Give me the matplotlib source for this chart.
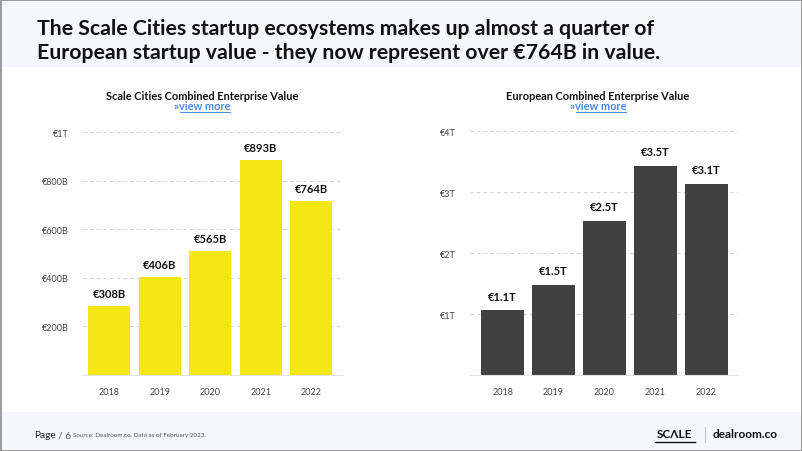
import matplotlib
matplotlib.use("Agg")
import matplotlib.pyplot as plt
from matplotlib.patches import Rectangle

plt.rcParams['font.family'] = ['Lato', 'DejaVu Sans']

years = ["2018", "2019", "2020", "2021", "2022"]
scale_values = [282, 405, 510, 887, 716]          # bar heights in € billions
scale_labels = ["€308B", "€406B", "€565B", "€893B", "€764B"]
scale_ticks = [200, 400, 600, 800, 1000]
scale_tick_labels = ["€200B", "€400B", "€600B", "€800B", "€1T"]

europe_values = [1.06, 1.48, 2.53, 3.43, 3.14]    # bar heights in € trillions
europe_labels = ["€1.1T", "€1.5T", "€2.5T", "€3.5T", "€3.1T"]
europe_ticks = [1, 2, 3, 4]
europe_tick_labels = ["€1T", "€2T", "€3T", "€4T"]

title = ("The Scale Cities startup ecosystems makes up almost a quarter of\n"
         "European startup value - they now represent over €764B in value.")

W, H = 802, 452
fig = plt.figure(figsize=(W / 100, H / 100), dpi=100)
fig.patch.set_facecolor("white")

def px(x, y):
    return x / W, 1 - y / H

# header & footer bands
fig.add_artist(Rectangle((0, 1 - 68 / H), 1, 68 / H, transform=fig.transFigure,
                         facecolor="#f6f7fb", edgecolor="none", zorder=0))
fig.add_artist(Rectangle((0, 0), 1, 39 / H, transform=fig.transFigure,
                         facecolor="#f6f7fb", edgecolor="none", zorder=0))
fig.add_artist(Rectangle((0.5 / W, 0.5 / H), 1 - 1 / W, 1 - 1 / H, transform=fig.transFigure,
                         facecolor="none", edgecolor="#8a8a8a", linewidth=1.2, zorder=10))

fig.text(*px(37, 41), title, fontsize=15.3, fontweight="bold", color="#111111",
         ha="left", va="center", linespacing=1.3)

# footer
fig.text(*px(34, 436), "Page", fontsize=7.3, color="#222222", ha="left", va="center")
fig.text(*px(58, 436), "/ 6", fontsize=7.3, color="#555555", ha="left", va="center")
fig.text(*px(73, 436), "Source: Dealroom.co. Data as of February 2023.", fontsize=4.5,
         color="#555555", ha="left", va="center")
fig.text(*px(675, 435), "SCΛLE", fontsize=8.5, fontweight="bold", color="#111111",
         ha="center", va="center")
fig.add_artist(plt.Line2D([px(655, 0)[0], px(695, 0)[0]], [px(0, 443)[1]] * 2,
                          transform=fig.transFigure, color="#111111", linewidth=1))
fig.add_artist(plt.Line2D([px(705, 0)[0]] * 2, [px(0, 428)[1], px(0, 443)[1]],
                          transform=fig.transFigure, color="#cccccc", linewidth=0.8))
fig.text(*px(745, 435), "dealroom.co", fontsize=8.5, fontweight="bold", color="#111111",
         ha="center", va="center")


def make_chart(left, right, y0pix, ytop_pix, ymax, values, labels, ticks, tick_labels,
               color, xlim, title_text, title_x, label_off):
    bottom = 1 - y0pix / H
    top = 1 - ytop_pix / H
    ax = fig.add_axes([left / W, bottom, (right - left) / W, top - bottom])
    ax.set_facecolor("none")
    x = list(range(len(years)))
    ax.bar(x, values, width=0.84, color=color, zorder=2)
    ax.set_xlim(*xlim)
    ax.set_ylim(0, ymax)
    ax.set_yticks(ticks)
    ax.set_yticklabels(tick_labels)
    ax.set_xticks(x)
    ax.set_xticklabels(years)
    ax.tick_params(axis="both", length=0, labelsize=6.5, colors="#444444")
    ax.tick_params(axis="y", pad=10)
    ax.tick_params(axis="x", pad=9)
    ax.grid(axis="y", color="#d5d5d5", linestyle=(0, (3, 3)), linewidth=0.8, zorder=0)
    for s in ["top", "right", "left"]:
        ax.spines[s].set_visible(False)
    ax.spines["bottom"].set_color("#e2e2e2")
    ax.spines["bottom"].set_linewidth(0.8)
    for xi, v, lab in zip(x, values, labels):
        ax.annotate(lab, (xi, v), xytext=(0, label_off), textcoords="offset points",
                    ha="center", va="center", fontsize=8, fontweight="bold", color="#111111")
    fig.text(*px(title_x, 96), title_text, fontsize=7.9, fontweight="bold",
             color="#111111", ha="center", va="center")
    fig.text(*px(title_x, 107), "»view more", fontsize=7.9, fontweight="bold",
             color="#4a8ae8", ha="center", va="center")
    fig.add_artist(plt.Line2D([px(title_x - 22, 0)[0], px(title_x + 28, 0)[0]],
                              [px(0, 112.5)[1]] * 2, transform=fig.transFigure,
                              color="#4a8ae8", linewidth=0.7))
    return ax


make_chart(83, 343, 375.8, 126.2, 1030, scale_values, scale_labels, scale_ticks,
           scale_tick_labels, "#f5e614", (-0.52, 4.63),
           "Scale Cities Combined Enterprise Value", 202, 9)
make_chart(470, 738, 376, 126, 4.1, europe_values, europe_labels, europe_ticks,
           europe_tick_labels, "#414141", (-0.64, 4.62),
           "European Combined Enterprise Value", 598, 10)

fig.savefig("out.png", dpi=100, facecolor=fig.get_facecolor())
